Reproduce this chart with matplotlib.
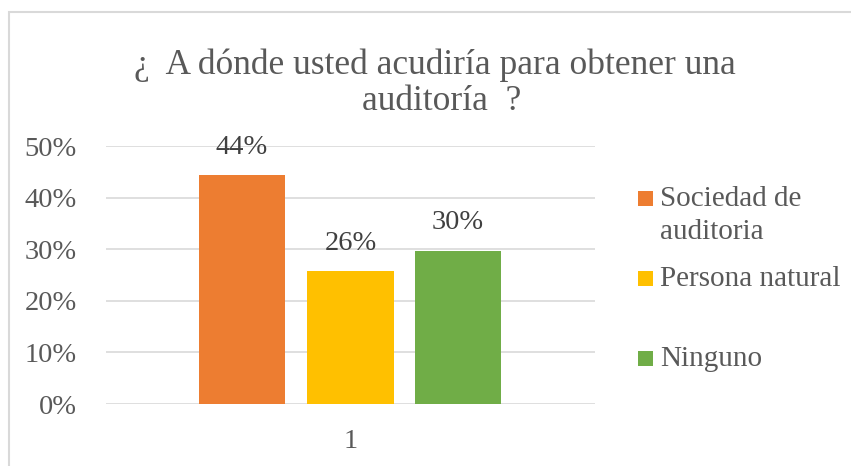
import matplotlib
matplotlib.use("Agg")
import matplotlib.pyplot as plt
from matplotlib.patches import Rectangle

categories = ["Sociedad de\nauditoria", "Persona natural", "Ninguno"]
values = [0.444, 0.258, 0.297]
labels = ["44%", "26%", "30%"]
colors = ["#ED7D31", "#FFC000", "#70AD47"]
yticks = [0, 0.1, 0.2, 0.3, 0.4, 0.5]
ytick_labels = ["0%", "10%", "20%", "30%", "40%", "50%"]
xlabel = "1"
title1 = "¿  A dónde usted acudiría para obtener una"
title2 = "auditoría  ?"

W, H = 851, 466
fig = plt.figure(figsize=(W / 100, H / 100), dpi=100)
plt.rcParams['font.family'] = ['Liberation Serif', 'DejaVu Serif']
gray = "#595959"

# chart border
fig.patches.append(Rectangle((9 / W, -0.1), 1.2, (H - 12) / H + 0.1, transform=fig.transFigure,
                             fill=False, edgecolor="#d9d9d9", linewidth=1.5))

ax = fig.add_axes([106 / W, (H - 404) / H, 489 / W, (404 - 146) / H])
xpos = [0.278, 0.5, 0.72]
ax.bar(xpos, values, width=0.176, color=colors, zorder=3)
ax.set_xlim(0, 1)
ax.set_ylim(0, 0.5)
ax.set_yticks(yticks)
ax.set_yticklabels(ytick_labels, fontsize=20.5, color=gray)
ax.set_xticks([0.5])
ax.set_xticklabels([xlabel], fontsize=20.5, color=gray)
ax.tick_params(axis='y', length=0, pad=21)
ax.tick_params(axis='x', length=0, pad=18)
ax.grid(axis='y', color="#d9d9d9", linewidth=1.2, zorder=0)
for s in ax.spines.values():
    s.set_visible(False)

for x, v, l in zip(xpos, values, labels):
    ax.annotate(l, (x, v), xytext=(0, 20), textcoords="offset points",
                ha="center", va="center", fontsize=20.5, color="#404040")

fig.text(435 / W, 1 - 65 / H, title1, ha="center", va="center", fontsize=25.5, color=gray)
fig.text(442 / W, 1 - 102 / H, title2, ha="center", va="center", fontsize=25.5, color=gray)

# legend
leg_y = [198.5, 278.5, 358.5]
for c, lab, y in zip(colors, categories, leg_y):
    fig.patches.append(Rectangle((638 / W, 1 - (y + 7.5) / H), 15 / W, 15 / H,
                                 transform=fig.transFigure, facecolor=c, edgecolor="none"))
    lines = lab.split("\n")
    for i, ln in enumerate(lines):
        fig.text(660 / W, 1 - (y + 34 * i) / H, ln, ha="left", va="center",
                 fontsize=21, color=gray)

fig.savefig("out.png", dpi=100)
